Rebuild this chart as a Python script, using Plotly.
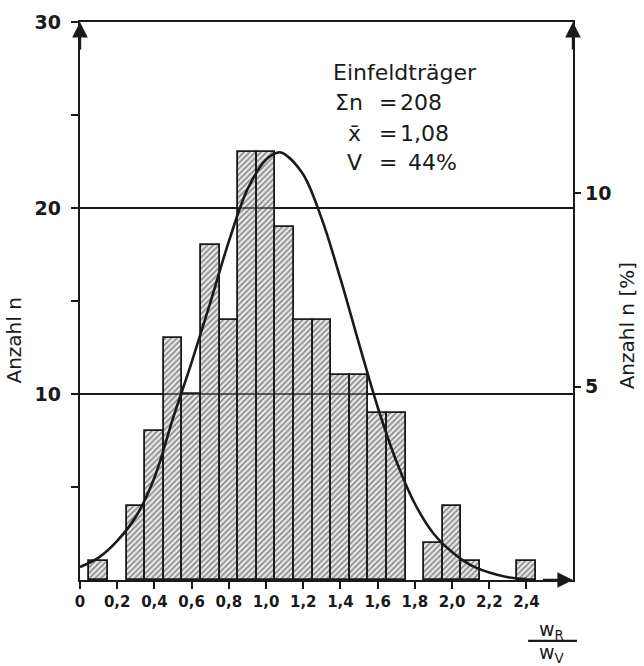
import plotly.graph_objects as go

# ---- data ----
bin_centers = [0.1, 0.3, 0.4, 0.5, 0.6, 0.7, 0.8, 0.9, 1.0, 1.1, 1.2, 1.3,
               1.4, 1.5, 1.6, 1.7, 1.9, 2.0, 2.1, 2.4]
counts = [1, 4, 8, 13, 10, 18, 14, 23, 23, 19, 14, 14,
          11, 11, 9, 9, 2, 4, 1, 1]
bin_width = 0.1

curve_x = [0.0, 0.1, 0.2, 0.3, 0.4, 0.5, 0.6, 0.7, 0.8, 0.9, 1.0, 1.07, 1.1,
           1.2, 1.3, 1.4, 1.5, 1.6, 1.7, 1.8, 1.9, 2.0, 2.1, 2.2, 2.3, 2.4]
curve_y = [0.7, 1.2, 2.1, 3.4, 5.5, 8.7, 11.7, 14.9, 18.2, 21.0, 22.6, 23.0, 22.9,
           21.8, 19.4, 16.2, 12.7, 9.3, 6.4, 4.1, 2.5, 1.5, 0.8, 0.4, 0.15, 0.05]

x_tickvals = [0, 0.2, 0.4, 0.6, 0.8, 1.0, 1.2, 1.4, 1.6, 1.8, 2.0, 2.2, 2.4]
x_ticktext = ["0", "0,2", "0,4", "0,6", "0,8", "1,0", "1,2", "1,4", "1,6",
              "1,8", "2,0", "2,2", "2,4"]
y_tickvals = [10, 20, 30]
y_minor = [5, 15, 25]
pct_tickvals = [5, 10]
total_n = 208

X_MAX = 2.65
Y_MAX = 30

FONT = "DejaVu Sans"
INK = "#1a1a1a"

fig = go.Figure()

fig.add_trace(go.Bar(
    x=bin_centers, y=counts, width=bin_width,
    marker=dict(
        color="rgba(190,190,190,0.35)",
        line=dict(color=INK, width=1.8),
        pattern=dict(shape="/", fgcolor="#262626", bgcolor="rgba(200,200,200,0.4)",
                     size=4, solidity=0.4, fillmode="overlay"),
    ),
    showlegend=False, hoverinfo="skip",
))

fig.add_trace(go.Scatter(
    x=curve_x, y=curve_y, mode="lines",
    line=dict(color=INK, width=2.6, shape="spline", smoothing=1.0),
    showlegend=False, hoverinfo="skip",
))

# invisible trace to activate right axis
fig.add_trace(go.Scatter(x=[0], y=[0], yaxis="y2", mode="markers",
                         marker=dict(opacity=0), showlegend=False, hoverinfo="skip"))

fig.update_layout(
    width=644, height=666,
    margin=dict(l=80, r=71, t=22, b=86),
    paper_bgcolor="white", plot_bgcolor="white",
    font=dict(family=FONT, color=INK, size=16),
    bargap=0,
    xaxis=dict(
        range=[0, X_MAX], showgrid=False, zeroline=False,
        showline=True, linecolor=INK, linewidth=2.4, mirror=True,
        tickmode="array", tickvals=x_tickvals, ticktext=x_ticktext,
        ticks="outside", ticklen=7, tickwidth=1.8, tickcolor=INK,
        tickfont=dict(family=FONT, size=15, color=INK, weight="bold"),
    ),
    yaxis=dict(
        range=[0, Y_MAX], showline=True, linecolor=INK, linewidth=2.4,
        zeroline=False,
        showgrid=True, gridcolor=INK, gridwidth=1.8,
        tickmode="array", tickvals=y_tickvals,
        ticks="outside", ticklen=7, tickwidth=1.8, tickcolor=INK,
        ticklabelstandoff=6,
        tickfont=dict(family=FONT, size=19, color=INK, weight="bold"),
        minor=dict(tickvals=y_minor, ticks="outside", ticklen=7,
                   tickwidth=1.8, tickcolor=INK, showgrid=False),
    ),
    yaxis2=dict(
        range=[0, Y_MAX / total_n * 100], overlaying="y", side="right",
        showline=True, linecolor=INK, linewidth=2.4, showgrid=False, zeroline=False,
        tickmode="array", tickvals=pct_tickvals,
        ticks="outside", ticklen=6, tickwidth=1.8, tickcolor=INK,
        tickfont=dict(family=FONT, size=19, color=INK, weight="bold"),
    ),
)

ann = []
# axis arrows
for ax_x, ax_y, dx, dy in [(0, Y_MAX, 0, 30), (X_MAX, Y_MAX, 0, 30), (X_MAX, 0, -32, 0)]:
    ann.append(dict(x=ax_x, y=ax_y, xref="x", yref="y", ax=dx, ay=dy, text=" ",
                    showarrow=True, arrowhead=2, arrowsize=1.3, arrowwidth=2.4,
                    arrowcolor=INK, standoff=0, font=dict(size=2)))

tf = dict(family=FONT, size=22, color=INK)
ann.append(dict(x=1.349, y=27.3, xref="x", yref="y", text="Einfeldträger",
                showarrow=False, xanchor="left", yanchor="middle", font=tf))
ann.append(dict(x=1.532, y=25.65, xref="x", yref="y", text="Σn",
                showarrow=False, xanchor="right", yanchor="middle", font=tf))
ann.append(dict(x=1.473, y=24.03, xref="x", yref="y", text="x̄",
                showarrow=False, xanchor="center", yanchor="middle", font=tf))
ann.append(dict(x=1.473, y=22.42, xref="x", yref="y", text="V",
                showarrow=False, xanchor="center", yanchor="middle", font=tf))
for yy in [25.65, 24.03, 22.42]:
    ann.append(dict(x=1.656, y=yy, xref="x", yref="y", text="=",
                    showarrow=False, xanchor="center", yanchor="middle", font=tf))
ann.append(dict(x=1.710, y=25.65, xref="x", yref="y", text="208",
                showarrow=False, xanchor="left", yanchor="middle", font=tf))
ann.append(dict(x=1.710, y=24.03, xref="x", yref="y", text="1,08",
                showarrow=False, xanchor="left", yanchor="middle", font=tf))
ann.append(dict(x=1.750, y=22.42, xref="x", yref="y", text="44%",
                showarrow=False, xanchor="left", yanchor="middle", font=tf))

# axis titles
ann.append(dict(x=-0.133, y=0.43, xref="paper", yref="paper", text="Anzahl n",
                showarrow=False, textangle=-90, xanchor="center", yanchor="middle",
                font=dict(family=FONT, size=20, color=INK)))
ann.append(dict(x=1.11, y=0.455, xref="paper", yref="paper", text="Anzahl n [%]",
                showarrow=False, textangle=-90, xanchor="center", yanchor="middle",
                font=dict(family=FONT, size=20, color=INK)))
# x label fraction
ann.append(dict(x=0.957, y=-0.090, xref="paper", yref="paper", text="w<sub>R</sub>",
                showarrow=False, xanchor="center", yanchor="middle",
                font=dict(family=FONT, size=19, color=INK)))
ann.append(dict(x=0.957, y=-0.131, xref="paper", yref="paper", text="w<sub>V</sub>",
                showarrow=False, xanchor="center", yanchor="middle",
                font=dict(family=FONT, size=19, color=INK)))
fig.update_layout(annotations=ann)

fig.add_shape(type="line", xref="paper", yref="paper", x0=0.909, x1=1.008,
              y0=-0.109, y1=-0.109, line=dict(color=INK, width=2.2))

fig.write_html("out.html")
